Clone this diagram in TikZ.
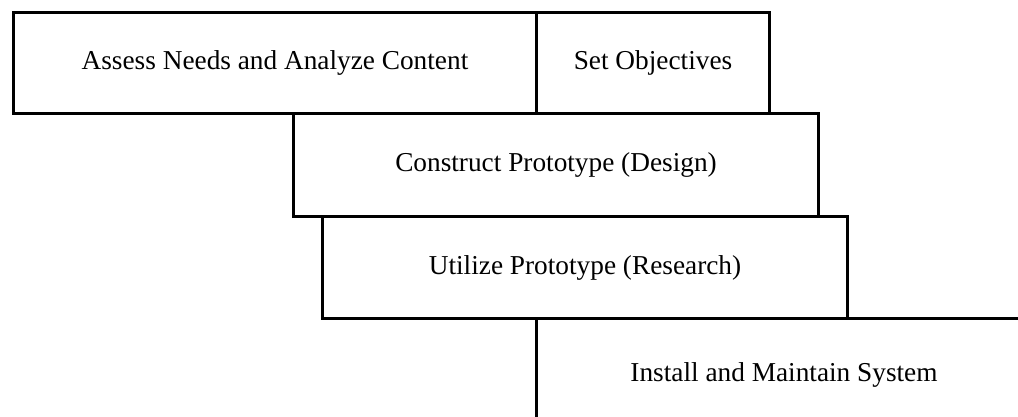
\documentclass[tikz,border=0pt]{standalone}
\usepackage{fontspec}
\setmainfont{Liberation Serif}
\begin{document}
\begin{tikzpicture}[x=1pt,y=-1pt,
  phase/.style={draw=black, line width=3pt, rectangle, inner sep=0pt,
    anchor=north west, font=\fontsize{27.3}{31}\selectfont, align=center}]
\useasboundingbox (0,0) rectangle (1018,416);
\clip (0,0) rectangle (1018,416);
\node[phase, minimum width=523pt, minimum height=101pt] (assess) at (12,11) {Assess Needs and Analyze Content};
\node[phase, minimum width=233pt, minimum height=101pt] (objectives) at (535,11) {Set Objectives};
\node[phase, minimum width=525pt, minimum height=103pt] (construct) at (292,112) {Construct Prototype (Design)};
\node[phase, minimum width=525pt, minimum height=102pt] (utilize) at (321,215) {Utilize Prototype (Research)};
\node[phase, minimum width=495pt, minimum height=112pt] (install) at (535,317) {Install and Maintain System};
\end{tikzpicture}
\end{document}
